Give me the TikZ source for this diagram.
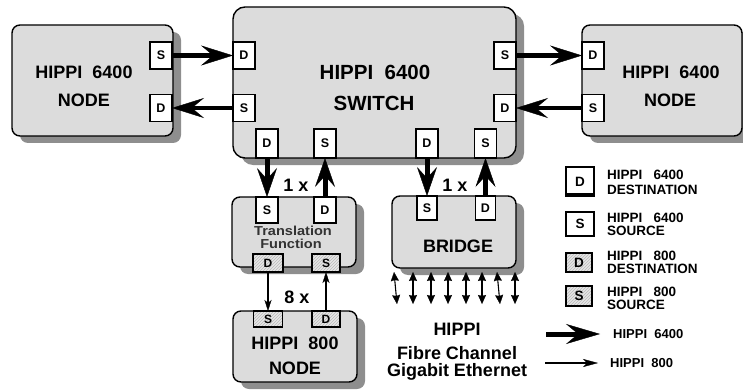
\documentclass[tikz,border=0pt]{standalone}
\usepackage{fontspec}
\setmainfont{Liberation Sans}
\usetikzlibrary{arrows.meta,patterns,shadows}
\definecolor{boxgray}{HTML}{DCDCDC}
\definecolor{shadowgray}{HTML}{8E8E8E}
\definecolor{hatchbg}{HTML}{E6E6E6}
\newcommand{\fsz}[1]{\bfseries\fontsize{#1}{#1}\selectfont}

\begin{document}
\begin{tikzpicture}[x=1pt,y=-1pt,
  box/.style={draw, line width=1.4pt, fill=boxgray, rounded corners=8pt,
    inner sep=0pt, outer sep=0pt,
    general shadow={fill=shadowgray, shadow xshift=8pt, shadow yshift=-7pt}},
  bigbox/.style={box, rounded corners=12pt},
  port/.style={draw, line width=1.1pt, fill=white, inner sep=0pt, outer sep=0pt,
    minimum width=22pt, minimum height=27pt, font=\fsz{12.5}},
  porthatch/.style={draw, line width=1.1pt, inner sep=0pt, outer sep=0pt,
    preaction={fill=hatchbg}, pattern=north east lines, pattern color=gray!55,
    minimum width=29pt, minimum height=18pt, font=\fsz{12}},
  title/.style={inner sep=0pt, font=\fsz{18}},
  legtext/.style={inner sep=0pt, anchor=west, align=left, font=\fsz{13.5}},
  wide/.style={line width=5pt, -{Stealth[length=32pt,width=20pt,inset=12pt,line width=0.4pt]}},
  widev/.style={line width=5pt, -{Stealth[length=29pt,width=20pt,inset=11pt,line width=0.4pt]}},
  narrow/.style={line width=1.3pt, -{Stealth[length=11pt,width=7pt,inset=3pt,line width=0.3pt]}},
  both/.style={line width=1.1pt, {Stealth[length=9pt,width=8pt,inset=1pt,line width=0.2pt]}-{Stealth[length=9pt,width=8pt,inset=1pt,line width=0.2pt]}}
]
\useasboundingbox (0,0) rectangle (743,390);

% ---- main blocks ----
\node[box, minimum width=161pt, minimum height=111pt] (lnode) at (92.5,80.5) {};
\node[bigbox, minimum width=283pt, minimum height=151pt] (switch) at (374.5,82.5) {};
\node[box, minimum width=160pt, minimum height=111pt] (rnode) at (662,80.5) {};
\node[box, minimum width=124pt, minimum height=70pt] (trans) at (294,232) {};
\node[box, minimum width=124pt, minimum height=72pt] (bridge) at (454,232) {};
\node[box, minimum width=124pt, minimum height=71pt] (hnode) at (295,346.5) {};

% ---- block captions ----
\node[title] (lnodeA) at (84,72) {HIPPI~~6400};
\node[title] (lnodeB) at (84,100) {NODE};
\node[title, font=\fsz{20.5}] (switchA) at (375,72) {HIPPI~~6400};
\node[title, font=\fsz{20.5}] (switchB) at (374,103) {SWITCH};
\node[title] (rnodeA) at (671,72) {HIPPI~~6400};
\node[title] (rnodeB) at (670,100) {NODE};
\node[title] (bridgeA) at (458,246) {BRIDGE};
\node[title] (hnodeA) at (295,343) {HIPPI~~800};
\node[title] (hnodeB) at (295,368) {NODE};
\node[inner sep=0pt, text=black!80, font=\fsz{13}] (transA) at (293,230.5)
  {\scalebox{1.12}[1]{Translation}};
\node[inner sep=0pt, text=black!80, font=\fsz{13}] (transB) at (291,243.5)
  {\scalebox{1.12}[1]{Function}};

% ---- ports ----
\node[port] (lnS) at (161,55.5) {S};
\node[port] (lnD) at (161,108) {D};
\node[port] (swD1) at (244,55.5) {D};
\node[port] (swS1) at (244,108) {S};
\node[port] (swS2) at (505,55.5) {S};
\node[port] (swD2) at (505,108) {D};
\node[port] (rnD) at (593,55.5) {D};
\node[port] (rnS) at (593,108) {S};

\node[port, minimum height=29pt] (swD3) at (267,143.5) {D};
\node[port, minimum height=29pt] (swS3) at (325,143.5) {S};
\node[port, minimum height=29pt] (swD4) at (427,143.5) {D};
\node[port, minimum height=29pt] (swS4) at (485.5,143.5) {S};

\node[port, minimum height=26pt] (trS) at (267,210) {S};
\node[port, minimum height=26pt] (trD) at (325,210) {D};
\node[port, minimum width=20pt, minimum height=24pt] (brS) at (427,208) {S};
\node[port, minimum width=20pt, minimum height=24pt] (brD) at (485.5,208) {D};

\node[porthatch, minimum width=30pt] (trD8) at (268,263) {D};
\node[porthatch, minimum width=28pt] (trS8) at (326,263) {S};
\node[porthatch, minimum height=16pt] (hnS) at (268,319) {S};
\node[porthatch, minimum width=28pt, minimum height=16pt] (hnD) at (326,319) {D};

% ---- HIPPI 6400 links ----
\draw[wide] (lnS) -- (swD1);
\draw[wide, line width=4.5pt] (swS1) -- (lnD);
\draw[wide] (swS2) -- (rnD);
\draw[wide, line width=4.5pt] (rnS) -- (swD2);
\draw[widev] (swD3) -- (trS);
\draw[widev] (trD) -- (swS3);
\draw[widev] (swD4) -- (brS);
\draw[widev] (brD) -- (swS4);
\node[title] (mulA) at (296,185) {1 x};
\node[title] (mulB) at (455,185) {1 x};

% ---- HIPPI 800 links ----
\draw[narrow] (trD8) -- (hnS);
\draw[narrow] (hnD) -- (trS8);
\node[title] (mulC) at (297,297) {8 x};

% ---- bridge fan-out ----
\foreach \i/\xt/\xb in {1/394/397, 2/413/413, 3/431/431, 4/448/448,
                        5/466/466, 6/482/482, 7/497/500, 8/515/515} {
  \coordinate (ft\i) at (\xt,272);
  \coordinate (fb\i) at (\xb,304);
  \draw[both] (ft\i) -- (fb\i);
}
\node[title] (netA) at (457,329) {HIPPI};
\node[title] (netB) at (457,353) {Fibre Channel};
\node[title] (netC) at (457,372) {Gigabit Ethernet};

% ---- legend ----
\node[port, minimum width=28pt, minimum height=29pt, font=\fsz{13.5}] (lgD) at (580,181.5) {D};
\draw[line width=3pt] ([yshift=1.2pt]lgD.south west) -- ([yshift=1.2pt]lgD.south east);
\node[port, minimum width=28pt, minimum height=24pt, font=\fsz{13.5}] (lgS) at (580,224) {S};
\node[porthatch, minimum width=26pt, minimum height=19pt, font=\fsz{13.5}] (lgD8) at (579,262.5) {D};
\node[porthatch, minimum width=26pt, minimum height=20pt, font=\fsz{13.5}] (lgS8) at (579,296) {S};

\node[legtext] (lgtA) at (607,175) {HIPPI~~~6400};
\node[legtext] (lgtB) at (607,190) {DESTINATION};
\node[legtext] (lgtC) at (607,218) {HIPPI~~~6400};
\node[legtext] (lgtD) at (607,231) {SOURCE};
\node[legtext] (lgtE) at (607,256) {HIPPI~~~800};
\node[legtext] (lgtF) at (607,269) {DESTINATION};
\node[legtext] (lgtG) at (607,292) {HIPPI~~~800};
\node[legtext] (lgtH) at (607,305) {SOURCE};

\coordinate (lgW0) at (546,334);
\coordinate (lgW1) at (600,334);
\draw[line width=5pt, -{Stealth[length=34pt,width=20pt,inset=12pt,line width=0.4pt]}] (lgW0) -- (lgW1);
\node[legtext, font=\fsz{13}] (lgtI) at (613,334) {HIPPI~~6400};
\coordinate (lgN0) at (545,363);
\coordinate (lgN1) at (598,363);
\draw[line width=1.3pt, -{Stealth[length=15pt,width=8pt,inset=4pt,line width=0.3pt]}] (lgN0) -- (lgN1);
\node[legtext, font=\fsz{13}] (lgtJ) at (610,363) {HIPPI~~800};
\end{tikzpicture}
\end{document}
